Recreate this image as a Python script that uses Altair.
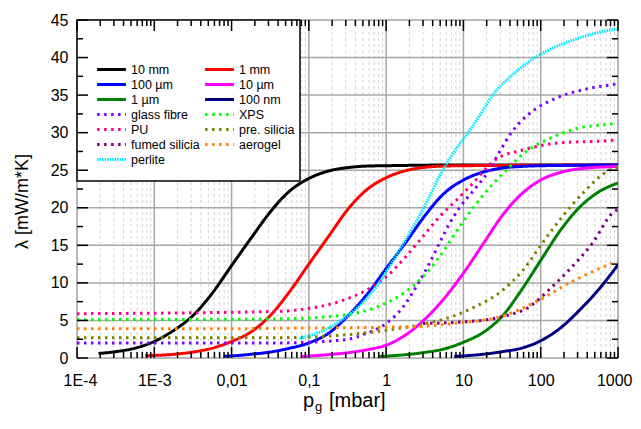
import altair as alt
import pandas as pd

# ---------------- data ----------------
series_names = ["10 mm", "1 mm", "100 µm", "10 µm", "1 µm", "100 nm",
                "glass fibre", "XPS", "PU", "pre. silicia", "fumed silicia",
                "aerogel", "perlite"]

x_10mm = [1.9e-4, 3.2e-4, 5.6e-4, 1e-3, 1.8e-3, 3.2e-3, 5.6e-3, 0.01, 0.018, 0.032, 0.056, 0.1, 0.18, 0.32, 0.56, 1, 10, 1000]
y_10mm = [0.6, 0.85, 1.3, 2.2, 3.7, 5.7, 8.6, 12.3, 16.0, 19.5, 22.2, 23.9, 24.9, 25.35, 25.55, 25.6, 25.7, 25.7]

x_1mm = [7.6e-4, 1.8e-3, 3.2e-3, 5.6e-3, 0.01, 0.018, 0.032, 0.056, 0.1, 0.18, 0.32, 0.56, 1, 1.8, 3.2, 5.6, 10, 1000]
y_1mm = [0.3, 0.5, 0.8, 1.3, 2.2, 3.5, 5.7, 8.8, 12.5, 16.2, 19.8, 22.4, 24.0, 24.95, 25.4, 25.55, 25.6, 25.7]

x_100um = [7.9e-3, 0.018, 0.032, 0.056, 0.1, 0.18, 0.32, 0.56, 1, 1.8, 3.2, 5.6, 10, 18, 32, 56, 100, 1000]
y_100um = [0.2, 0.5, 0.8, 1.3, 2.0, 3.3, 5.6, 8.4, 11.9, 15.4, 19.0, 21.9, 23.7, 24.75, 25.3, 25.5, 25.6, 25.7]

x_10um = [0.081, 0.18, 0.32, 0.56, 1, 1.8, 3.2, 5.6, 10, 18, 32, 56, 100, 180, 320, 1000]
y_10um = [0.2, 0.45, 0.7, 1.1, 1.7, 3.1, 5.2, 7.9, 11.3, 15.2, 19.0, 21.8, 23.7, 24.7, 25.2, 25.5]

x_1um = [0.79, 1.8, 3.2, 5.6, 10, 18, 32, 56, 100, 180, 320, 560, 1000]
y_1um = [0.2, 0.45, 0.75, 1.2, 2.1, 3.4, 5.6, 9.0, 13.0, 17.0, 20.1, 22.1, 23.3]

x_100nm = [7.6, 18, 32, 56, 100, 180, 320, 560, 1000]
y_100nm = [0.2, 0.5, 0.85, 1.3, 2.3, 4.0, 6.4, 9.1, 12.4]

x_glass = [1e-4, 0.038, 0.28, 0.56, 1.0, 1.66, 2.45, 3.63, 4.9, 6.6, 8.9, 14.8, 21.6, 29.5, 41.7, 70.8, 158, 347, 850, 1000]
y_glass = [2.0, 2.0, 2.4, 3.3, 4.6, 6.8, 9.5, 12.6, 15.3, 17.9, 20.0, 22.8, 25.0, 27.5, 30.0, 32.5, 34.6, 35.7, 36.4, 36.5]

x_xps = [1e-4, 0.038, 0.28, 0.76, 1.66, 3.0, 4.9, 7.4, 11, 14.8, 40, 65, 117, 257, 850, 1000]
y_xps = [5.1, 5.2, 5.7, 6.8, 8.6, 10.8, 13.5, 16.2, 18.8, 20.6, 25.5, 27.5, 29.0, 30.4, 31.2, 31.3]

x_pu = [1e-4, 0.038, 0.1, 0.28, 0.56, 1.0, 1.8, 3.0, 4.9, 8.1, 12, 26, 59, 158, 850, 1000]
y_pu = [5.9, 6.2, 6.6, 7.7, 9.05, 10.8, 13.5, 16.2, 18.8, 21.0, 22.8, 26.4, 27.7, 28.6, 29.0, 29.1]

x_presil = [1e-4, 0.038, 0.28, 1.0, 2.7, 6.6, 14, 32.4, 59, 105, 190, 347, 776, 1000]
y_presil = [2.7, 2.7, 3.06, 3.7, 4.4, 5.4, 6.8, 9.05, 11.7, 15.3, 18.8, 21.9, 25.0, 25.4]

x_fumed = [3.0, 9.8, 32, 71, 141, 257, 468, 850, 1000]
y_fumed = [4.6, 4.8, 5.5, 6.8, 9.5, 12.2, 15.3, 19.3, 19.8]

x_aerogel = [1e-4, 0.01, 0.1, 1.0, 2.7, 7.3, 30, 52, 117, 234, 427, 850, 1000]
y_aerogel = [3.9, 3.9, 4.0, 4.1, 4.2, 4.6, 5.5, 6.4, 8.2, 10.0, 11.3, 12.6, 12.8]

x_perlite = [0.076, 0.15, 0.28, 0.5, 0.76, 1.2, 2.0, 3.3, 5.4, 8.0, 11.5, 17, 24, 48, 95, 257, 850, 1000]
y_perlite = [2.6, 3.6, 5.2, 7.4, 9.6, 12.8, 16.6, 20.6, 25.0, 27.8, 30.0, 32.6, 35.0, 38.1, 40.3, 42.3, 43.7, 43.8]

x_ticks = [1e-4, 1e-3, 1e-2, 1e-1, 1, 10, 100, 1000]
x_tick_labels = ["1E-4", "1E-3", "0,01", "0,1", "1", "10", "100", "1000"]
x_minor = [m * d for d in [1e-4, 1e-3, 1e-2, 1e-1, 1, 10, 100] for m in range(2, 10)]
y_ticks = [0, 5, 10, 15, 20, 25, 30, 35, 40, 45]
y_minor = [2.5, 7.5, 12.5, 17.5, 22.5, 27.5, 32.5, 37.5, 42.5]

# legend is filled column by column: left column first, then right column
legend_order = ["10 mm", "100 µm", "1 µm", "glass fibre", "PU", "fumed silicia", "perlite",
                "1 mm", "10 µm", "100 nm", "XPS", "pre. silicia", "aerogel"]

# ---------------- styles ----------------
style_color = {"10 mm": "#000000", "1 mm": "#ff0000", "100 µm": "#0000ff", "10 µm": "#ff00ff",
               "1 µm": "#008000", "100 nm": "#000080", "glass fibre": "#8000ff",
               "XPS": "#00ff00", "PU": "#ff0080", "pre. silicia": "#808000",
               "fumed silicia": "#800080", "aerogel": "#ff8000", "perlite": "#00e8ff"}
solid_set = {"10 mm", "1 mm", "100 µm", "10 µm", "1 µm", "100 nm"}


def dash_of(n):
    if n in solid_set:
        return [1, 0]
    if n == "perlite":
        return [1.5, 1]
    return [2.5, 4.5]


def width_of(n):
    return 1.3 if n == "perlite" else 3


FONT = "Liberation Sans"
W, H = 541, 338

series_data = [
    (x_10mm, y_10mm), (x_1mm, y_1mm), (x_100um, y_100um), (x_10um, y_10um),
    (x_1um, y_1um), (x_100nm, y_100nm), (x_glass, y_glass), (x_xps, y_xps),
    (x_pu, y_pu), (x_presil, y_presil), (x_fumed, y_fumed), (x_aerogel, y_aerogel),
    (x_perlite, y_perlite),
]
rows = []
for name, (xs_, ys_) in zip(series_names, series_data):
    for i, (a, b) in enumerate(zip(xs_, ys_)):
        rows.append({"series": name, "p": a, "lam": b, "i": i})
df = pd.DataFrame(rows)

xscale = alt.Scale(type="log", domain=[1e-4, 1000], nice=False)
yscale = alt.Scale(domain=[0, 45], nice=False, zero=False)

parts = []
for i in range(len(x_ticks) - 1):
    thr = (x_ticks[i] * x_ticks[i + 1]) ** 0.5
    parts.append(f"datum.value < {thr} ? '{x_tick_labels[i]}' : ")
label_expr = "".join(parts) + f"'{x_tick_labels[-1]}'"

XAX = alt.Axis(values=x_ticks, labelExpr=label_expr, title=None, grid=False,
               ticks=False, domain=False, labelFontSize=16, labelFont=FONT,
               labelColor="black", labelPadding=14, labelFlush=True, labelFlushOffset=14)
YAX = alt.Axis(values=y_ticks, title="λ [mW/m*K]", grid=False, ticks=False,
               domain=False, labelFontSize=16, labelFont=FONT, labelColor="black",
               labelPadding=9, titleFont=FONT, titleFontSize=18,
               titleFontWeight="normal", titleColor="black", titleX=-55,
               titleY=181, titleBaseline="middle")

LEG = alt.Legend(orient="none", legendX=27, legendY=42, columns=2, columnPadding=-1,
                 rowPadding=1, symbolType="M-2.4,0H2.4", symbolSize=144, labelFontSize=12.5,
                 labelFont=FONT, labelColor="black", labelOffset=12, title=None, padding=0,
                 labelLimit=200)


def xgrid(vals, color, dash, width):
    d = pd.DataFrame({"v": vals})
    return alt.Chart(d).mark_rule(color=color, strokeDash=dash, strokeWidth=width).encode(
        x=alt.X("v:Q", scale=xscale, axis=XAX), y=alt.value(0), y2=alt.value(H))


def ygrid(vals, color, width):
    d = pd.DataFrame({"v": vals})
    return alt.Chart(d).mark_rule(color=color, strokeWidth=width).encode(
        y=alt.Y("v:Q", scale=yscale, axis=YAX), x=alt.value(0), x2=alt.value(W))


def xtick(vals, y0, y1, width):
    d = pd.DataFrame({"v": vals})
    return alt.Chart(d).mark_rule(color="black", strokeWidth=width).encode(
        x=alt.X("v:Q", scale=xscale, axis=XAX), y=alt.value(y0), y2=alt.value(y1))


def ytick(vals, x0, x1, width):
    d = pd.DataFrame({"v": vals})
    return alt.Chart(d).mark_rule(color="black", strokeWidth=width).encode(
        y=alt.Y("v:Q", scale=yscale, axis=YAX), x=alt.value(x0), x2=alt.value(x1))


lines = alt.Chart(df).mark_line(interpolate="monotone", strokeCap="butt", clip=True).encode(
    x=alt.X("p:Q", scale=xscale, axis=XAX),
    y=alt.Y("lam:Q", scale=yscale, axis=YAX),
    color=alt.Color("series:N", scale=alt.Scale(domain=legend_order,
                    range=[style_color[n] for n in legend_order]), legend=LEG),
    strokeDash=alt.StrokeDash("series:N", scale=alt.Scale(domain=legend_order,
                              range=[dash_of(n) for n in legend_order]), legend=LEG),
    strokeWidth=alt.StrokeWidth("series:N", scale=alt.Scale(domain=legend_order,
                                range=[width_of(n) for n in legend_order]), legend=LEG),
    order="i:Q",
)

one = pd.DataFrame({"a": [0]})
box = alt.Chart(one).mark_rect(fill="white", stroke="black", strokeWidth=1.5).encode(
    x=alt.value(0), x2=alt.value(223), y=alt.value(0), y2=alt.value(161))

t_p = alt.Chart(one).mark_text(font=FONT, fontSize=20, align="right", baseline="alphabetic", color="black").encode(
    x=alt.value(237), y=alt.value(H + 49), text=alt.value("p"))
t_g = alt.Chart(one).mark_text(font=FONT, fontSize=13, align="left", baseline="alphabetic", color="black").encode(
    x=alt.value(238), y=alt.value(H + 53), text=alt.value("g"))
t_rest = alt.Chart(one).mark_text(font=FONT, fontSize=20, align="left", baseline="alphabetic", color="black").encode(
    x=alt.value(252), y=alt.value(H + 49), text=alt.value("[mbar]"))

chart = alt.layer(
    xgrid(x_minor, "#d4d4d4", [3, 3], 1),
    xgrid(x_ticks, "#a8a8a8", [1, 0], 1.5),
    ygrid(y_ticks, "#a8a8a8", 1.5),
    lines,
    box,
    xtick(x_ticks, H, H - 11, 1.5), xtick(x_ticks, 0, 11, 1.5),
    xtick(x_minor, H, H - 6, 1.5), xtick(x_minor, 0, 6, 1.5),
    ytick(y_ticks, 0, 11, 1.5), ytick(y_ticks, W, W - 11, 1.5),
    ytick(y_minor, 0, 6, 1.5), ytick(y_minor, W, W - 6, 1.5),
    t_p, t_g, t_rest,
).properties(
    width=W, height=H,
    autosize=alt.AutoSizeParams(type="none"),
    padding={"left": 69, "top": 12, "right": 15, "bottom": 60},
).configure_view(stroke="black", strokeWidth=2.5).configure(background="white")

chart.save("out.html", embed_options={"renderer": "svg", "actions": False})
